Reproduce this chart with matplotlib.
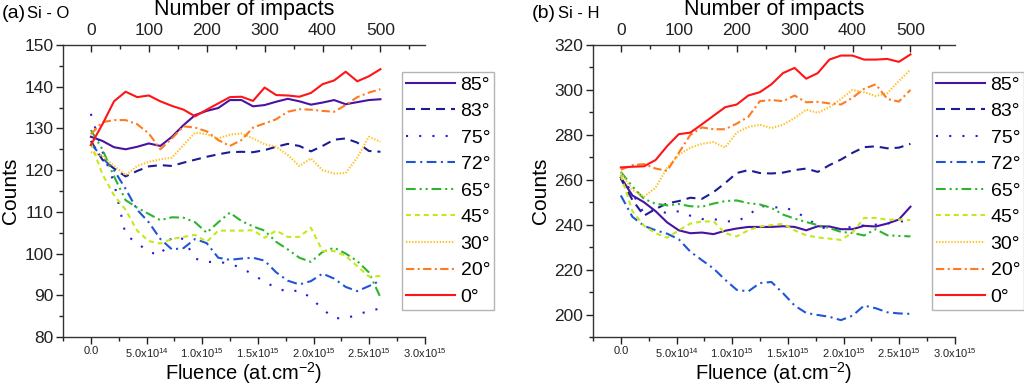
#!/usr/bin/env python3

# Counts vs fluence / number of impacts for Si-O and Si-H, several incidence angles

import matplotlib
matplotlib.use("Agg")
from matplotlib import pyplot as plt
from matplotlib.ticker import MultipleLocator, FuncFormatter

params = {
    'font.family': ['Liberation Sans', 'DejaVu Sans'],
    'mathtext.default': 'regular',
    'axes.linewidth': 1.0,
    'lines.linewidth': 1.5,
    'lines.scale_dashes': False,
    'xtick.color': '#222222',
    'ytick.color': '#222222',
    'axes.edgecolor': '#333333',
}
matplotlib.rcParams.update(params)

# ---------------- data ----------------
impacts = [0, 20, 40, 60, 80, 100, 120, 140, 160, 180, 200, 220, 240,
           260, 280, 300, 320, 340, 360, 380, 400, 420, 440, 460, 480, 500]
fluence_per_impact = 5.2e12

angles = ["85°", "83°", "75°", "72°", "65°", "45°", "30°", "20°", "0°"]

# Si - O
sio_85 = [128.0, 127.0, 125.5, 125.0, 125.6, 126.4, 125.8, 128.0, 130.8, 133.2, 134.2, 134.9, 136.8,
          136.8, 135.3, 135.6, 136.4, 137.1, 136.5, 135.7, 136.2, 136.8, 135.8, 136.3, 136.8, 137.0]
sio_83 = [127.0, 122.5, 120.4, 118.5, 119.8, 120.9, 121.2, 121.0, 121.8, 122.5, 123.2, 123.8, 124.3,
          124.4, 124.3, 124.8, 125.6, 126.3, 125.8, 124.5, 125.8, 127.3, 127.6, 126.6, 124.6, 124.4]
sio_75 = [133.5, 124.5, 117.0, 104.5, 102.5, 100.4, 99.6, 104.0, 103.5, 98.8, 98.0, 98.0, 97.6,
          96.5, 95.0, 93.2, 91.8, 90.8, 91.2, 89.4, 86.7, 84.5, 84.5, 85.3, 86.3, 86.8]
sio_72 = [126.4, 123.0, 120.0, 115.5, 110.5, 107.5, 103.5, 101.0, 101.3, 103.5, 102.5, 99.0, 98.5,
          98.8, 99.0, 98.3, 95.5, 93.5, 92.6, 93.4, 95.2, 94.0, 92.0, 91.0, 92.2, 93.5]
sio_65 = [129.6, 125.0, 118.5, 112.8, 111.0, 109.5, 108.0, 108.7, 108.6, 107.5, 105.0, 107.5, 109.8,
          107.8, 106.5, 105.5, 102.8, 101.0, 99.0, 98.0, 100.4, 101.4, 100.0, 98.2, 95.5, 89.5]
sio_45 = [126.5, 119.0, 114.0, 110.5, 105.5, 103.0, 102.4, 103.5, 104.0, 104.5, 102.8, 105.5, 105.5,
          105.5, 105.6, 103.8, 105.5, 104.0, 104.0, 106.2, 100.6, 100.6, 99.4, 97.0, 94.5, 94.6]
sio_30 = [124.3, 123.4, 121.0, 118.8, 121.0, 122.0, 122.6, 123.0, 126.0, 129.0, 128.6, 127.6, 128.5,
          128.8, 127.6, 126.2, 125.6, 123.6, 121.0, 122.8, 120.0, 119.2, 119.3, 123.0, 128.0, 126.8]
sio_20 = [128.6, 131.5, 132.0, 132.0, 131.0, 128.8, 125.0, 127.6, 130.5, 130.2, 129.3, 127.2, 125.8,
          127.2, 130.2, 131.2, 132.2, 134.0, 134.6, 134.5, 134.2, 134.0, 135.6, 137.5, 138.6, 139.4]
sio_0 = [126.0, 131.0, 136.5, 138.8, 137.5, 137.9, 136.5, 135.4, 134.5, 132.9, 134.5, 136.0, 137.5,
         137.6, 136.6, 139.8, 138.0, 137.9, 137.6, 138.5, 140.6, 141.5, 143.6, 141.3, 142.5, 144.2]

# Si - H
sih_85 = [261.0, 253.0, 250.0, 246.0, 241.0, 237.5, 236.2, 236.5, 235.8, 237.3, 238.3, 239.0, 239.0,
          239.0, 239.3, 239.0, 237.5, 239.3, 239.2, 238.0, 238.0, 239.5, 239.2, 240.5, 242.3, 248.0]
sih_83 = [260.5, 251.0, 244.0, 247.0, 249.5, 250.5, 252.0, 251.5, 254.5, 258.5, 263.0, 264.3, 263.0,
          262.8, 263.2, 264.3, 265.0, 263.5, 266.5, 269.0, 272.0, 274.5, 274.9, 274.0, 274.3, 276.0]
sih_75 = [262.0, 254.0, 245.0, 247.0, 245.0, 246.0, 244.0, 242.5, 242.5, 241.5, 241.5, 244.0, 248.5,
          247.5, 248.0, 246.0, 243.0, 239.5, 237.7, 238.5, 239.0, 239.7, 240.0, 240.5, 241.5, 241.5]
sih_72 = [253.0, 243.5, 239.5, 237.5, 236.0, 233.5, 228.0, 224.2, 220.5, 215.5, 211.0, 210.3, 214.0,
          214.5, 209.5, 204.0, 200.7, 199.8, 199.0, 197.5, 199.5, 204.0, 202.8, 201.0, 200.5, 200.3]
sih_65 = [263.5, 257.0, 251.5, 249.3, 248.6, 249.2, 248.2, 248.0, 249.4, 250.5, 250.8, 249.6, 249.0,
          247.5, 244.5, 242.7, 241.2, 239.8, 238.5, 236.8, 236.3, 235.2, 238.0, 235.3, 235.0, 234.8]
sih_45 = [262.0, 246.0, 239.5, 236.2, 234.2, 237.5, 240.5, 241.4, 241.5, 236.2, 234.8, 237.5, 239.2,
          239.8, 240.4, 237.5, 235.3, 234.3, 233.8, 233.2, 236.5, 243.0, 243.0, 242.2, 242.3, 242.0]
sih_30 = [263.0, 255.5, 252.5, 256.5, 265.5, 271.0, 274.3, 276.0, 276.8, 274.3, 281.0, 283.5, 284.5,
          283.0, 284.5, 287.5, 291.2, 289.8, 292.3, 296.0, 300.0, 299.0, 297.3, 298.5, 304.0, 309.0]
sih_20 = [264.5, 266.5, 267.0, 265.0, 264.0, 272.0, 280.0, 283.3, 282.5, 282.5, 285.0, 288.0, 295.0,
          295.5, 295.0, 297.5, 294.5, 294.7, 294.0, 293.5, 296.5, 300.5, 302.5, 296.0, 294.8, 300.0]
sih_0 = [265.5, 265.8, 266.0, 268.8, 275.0, 280.3, 281.0, 284.7, 288.5, 292.3, 293.5, 297.5, 299.0,
         302.5, 307.5, 309.8, 305.0, 307.5, 313.5, 315.3, 315.3, 313.5, 313.5, 313.8, 312.5, 315.8]

sio_series = [sio_85, sio_83, sio_75, sio_72, sio_65, sio_45, sio_30, sio_20, sio_0]
sih_series = [sih_85, sih_83, sih_75, sih_72, sih_65, sih_45, sih_30, sih_20, sih_0]

# ---------------- styles ----------------
colors = ['#4a12a0', '#1c1c96', '#1e1ed2', '#1f55d8', '#2db52d',
          '#c2ea1a', '#ffc125', '#ff7b22', '#ff1515']
dashes = [None,
          (0, (6.5, 4.3)),
          (0, (1.5, 8.0)),
          (0, (7.0, 3.2, 1.5, 3.2)),
          (0, (7.0, 2.8, 1.5, 2.8, 1.5, 2.8)),
          (0, (3.6, 2.8)),
          (0, (1.0, 1.2)),
          (0, (6.0, 2.4, 1.5, 2.4)),
          None]

fluence = [n * fluence_per_impact for n in impacts]


def sci_label(v, pos):
    if v == 0:
        return "0.0"
    exp = int(f"{v:e}".split("e")[1])
    mant = v / 10 ** exp
    return f"{mant:.1f}x10$^{{{exp}}}$"


fig = plt.figure(figsize=(10.24, 3.87), dpi=100)

panels = [
    dict(rect=[63 / 1024, 1 - 337 / 387, 362 / 1024, 292 / 387], data=sio_series,
         ylim=(80, 150), ymaj=10, ymin=5, tag="(a)", name="Si - O", tagx=2, namex=27),
    dict(rect=[593 / 1024, 1 - 337 / 387, 362 / 1024, 292 / 387], data=sih_series,
         ylim=(190, 320), ymaj=20, ymin=10, tag="(b)", name="Si - H", tagx=532, namex=558),
]

for p in panels:
    ax = fig.add_axes(p['rect'])
    handles = []
    for vals, lab, c, d in zip(p['data'], angles, colors, dashes):
        ln, = ax.plot(fluence, vals, color=c, lw=1.5, label=lab)
        if d is not None:
            ln.set_linestyle(d)
        handles.append(ln)

    ax.set_xlim(-2.5e14, 3.0e15)
    ax.set_ylim(*p['ylim'])
    ax.spines['right'].set_visible(False)
    ax.spines['top'].set_visible(False)

    ax.xaxis.set_major_locator(MultipleLocator(5e14))
    ax.xaxis.set_minor_locator(MultipleLocator(2.5e14))
    ax.xaxis.set_major_formatter(FuncFormatter(sci_label))
    ax.yaxis.set_major_locator(MultipleLocator(p['ymaj']))
    ax.yaxis.set_minor_locator(MultipleLocator(p['ymin']))

    ax.tick_params(axis='x', which='major', direction='out', length=5, width=1,
                   labelsize=8, pad=1.5)
    ax.tick_params(axis='x', which='minor', direction='out', length=3, width=1)
    ax.tick_params(axis='y', which='major', direction='out', length=5, width=1,
                   labelsize=12.5, pad=2)
    ax.tick_params(axis='y', which='minor', direction='out', length=3, width=1)

    ax.set_xlabel("Fluence (at.cm$^{-2}$)", fontsize=14.5, labelpad=0)
    ax.set_ylabel("Counts", fontsize=15, labelpad=3)

    top = ax.secondary_xaxis('top', functions=(lambda f: f / fluence_per_impact,
                                               lambda n: n * fluence_per_impact))
    top.xaxis.set_major_locator(MultipleLocator(100))
    top.xaxis.set_minor_locator(MultipleLocator(50))
    top.tick_params(axis='x', which='major', direction='in', length=5, width=1,
                    labelsize=12.5, pad=5)
    top.tick_params(axis='x', which='minor', direction='in', length=3, width=1)
    top.set_xlabel("Number of impacts", fontsize=15.5)
    top.xaxis.set_label_coords(0.5, (337 - 10) / 292, transform=ax.transAxes)
    top.xaxis.label.set_verticalalignment('center')

    leg = ax.legend(handles=handles, loc='upper left', bbox_to_anchor=(0.937, 0.9075),
                    borderaxespad=0, fontsize=14, handlelength=2.5,
                    handletextpad=0.3, labelspacing=0.46, borderpad=0.2,
                    fancybox=False, framealpha=1, edgecolor='#b4b4b4')
    leg.get_frame().set_linewidth(1.0)
    leg.set_clip_on(False)

    fig.text(p['tagx'] / 1024, 1 - 14 / 387, p['tag'], fontsize=14, va='center', ha='left')
    fig.text(p['namex'] / 1024, 1 - 14 / 387, p['name'], fontsize=12, va='center', ha='left')

plt.savefig("out.png", dpi=100)
